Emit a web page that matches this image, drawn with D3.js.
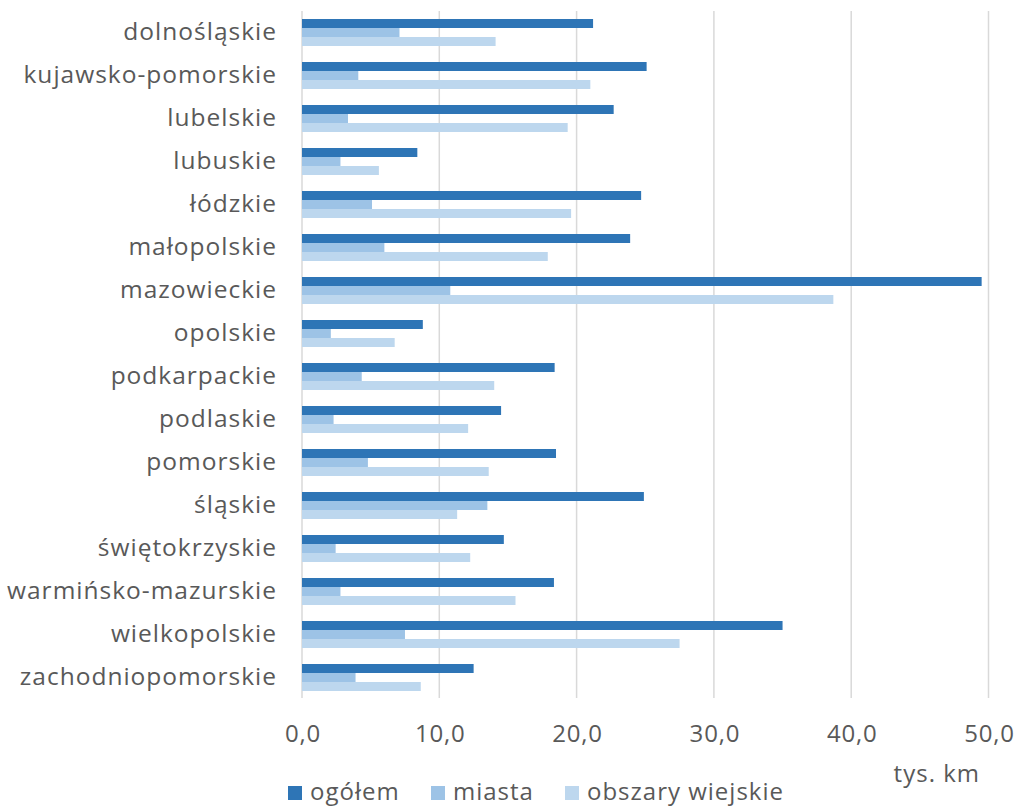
<!DOCTYPE html>
<html><head><meta charset="utf-8">
<script src="https://cdn.jsdelivr.net/npm/d3@7"></script>
<style>body{margin:0;background:#fff}svg{display:block}text{font-family:"Open Sans",sans-serif;fill:#595959}</style>
</head><body><svg id="c" width="1016" height="807"></svg>
<script>
const categories = ["dolnośląskie","kujawsko-pomorskie","lubelskie","lubuskie","łódzkie","małopolskie","mazowieckie","opolskie","podkarpackie","podlaskie","pomorskie","śląskie","świętokrzyskie","warmińsko-mazurskie","wielkopolskie","zachodniopomorskie"];
const ogolem  = [21.2,25.1,22.7,8.4,24.7,23.9,49.5,8.8,18.4,14.5,18.5,24.9,14.7,18.35,35.0,12.5];
const miasta  = [7.1,4.1,3.35,2.8,5.1,6.0,10.8,2.1,4.35,2.3,4.8,13.5,2.45,2.8,7.5,3.9];
const wiejskie= [14.1,21.0,19.35,5.6,19.6,17.9,38.7,6.75,14.0,12.1,13.6,11.3,12.25,15.55,27.5,8.65];
const seriesNames = ["ogółem","miasta","obszary wiejskie"];
const colors = ["#2e75b6","#9dc3e6","#bdd7ee"];
const ticks = [0,10,20,30,40,50];
const unitLabel = "tys. km";

const series = [ogolem, miasta, wiejskie];
const svg = d3.select("#c");
const x = d3.scaleLinear().domain([0,50]).range([302,988.5]);
const y = d3.scaleBand().domain(categories).range([11,699]).paddingInner(16/43).paddingOuter(8/43);
const ys = d3.scaleBand().domain(d3.range(3)).range([0,y.bandwidth()]);

// gridlines
svg.append("g").selectAll("line").data(ticks).join("line")
  .attr("x1",d=>x(d)).attr("x2",d=>x(d)).attr("y1",11).attr("y2",698)
  .attr("stroke","#d9d9d9").attr("stroke-width",1.5);

// bars
const g = svg.append("g");
categories.forEach((c,i)=>{
  series.forEach((s,j)=>{
    g.append("rect").attr("x",x(0)).attr("y",y(c)+ys(j))
     .attr("width",x(s[i])-x(0)).attr("height",ys.bandwidth())
     .attr("fill",colors[j]);
  });
});

// y labels
const ax = d3.axisLeft(y).tickSize(0).tickPadding(0);
const yg = svg.append("g").attr("transform","translate(277,0)").call(ax);
yg.select(".domain").remove();
yg.selectAll("text").style("font-size","24.5px").style("letter-spacing","1px")
  .attr("dy","0.31em").attr("fill","#595959");

// x tick labels
const xa = d3.axisBottom(x).tickValues(ticks).tickSize(0).tickPadding(0)
  .tickFormat(d=>d3.format(".1f")(d).replace(".",","));
const xg = svg.append("g").attr("transform","translate(0.5,725)").call(xa);
xg.select(".domain").remove();
xg.selectAll("text").style("font-size","24px").style("letter-spacing","0.8px").attr("fill","#595959");

svg.append("text").attr("x",980).attr("y",781.5).attr("text-anchor","end")
  .style("font-size","24px").style("letter-spacing","1px").text(unitLabel);

// legend
const legX = [288,431,565];
const lg = svg.append("g");
seriesNames.forEach((n,j)=>{
  lg.append("rect").attr("x",legX[j]).attr("y",786).attr("width",14).attr("height",14).attr("fill",colors[j]);
  lg.append("text").attr("x",legX[j]+22).attr("y",799.5).style("font-size","24px").style("letter-spacing","1px").text(n);
});
</script></body></html>
